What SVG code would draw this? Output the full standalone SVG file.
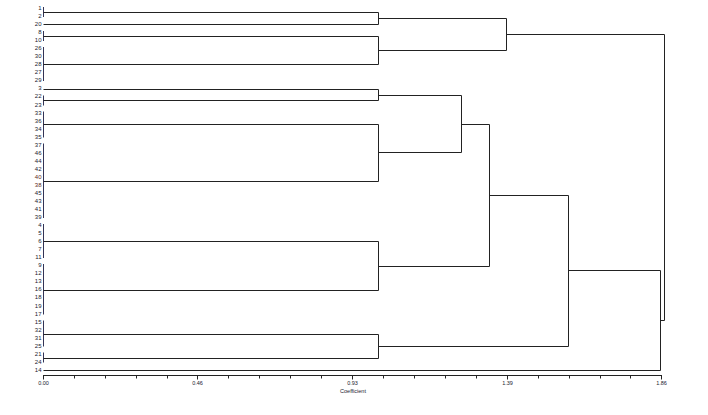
<svg xmlns="http://www.w3.org/2000/svg" width="708" height="415" viewBox="0 0 708 415">
<style>
.lbl{font-family:"Liberation Sans",Arial,sans-serif;font-size:6px;fill:#1a1a2e;text-anchor:end}
.ax{font-family:"Liberation Sans",Arial,sans-serif;font-size:5.5px;fill:#1a1a2e;text-anchor:middle}
.ln{stroke:#222;stroke-width:1;fill:none}
.lf{stroke:#335;stroke-width:1;fill:none}
</style>
<rect width="708" height="415" fill="#fff"/>
<g id="leaves">
<text class="lbl" x="41.5" y="10">1</text>
<text class="lbl" x="41.5" y="18">2</text>
<text class="lbl" x="41.5" y="26.1">20</text>
<text class="lbl" x="41.5" y="34.1">8</text>
<text class="lbl" x="41.5" y="42.2">10</text>
<text class="lbl" x="41.5" y="50.2">26</text>
<text class="lbl" x="41.5" y="58.2">30</text>
<text class="lbl" x="41.5" y="66.3">28</text>
<text class="lbl" x="41.5" y="74.3">27</text>
<text class="lbl" x="41.5" y="82.4">29</text>
<text class="lbl" x="41.5" y="90.4">3</text>
<text class="lbl" x="41.5" y="98.4">22</text>
<text class="lbl" x="41.5" y="106.5">23</text>
<text class="lbl" x="41.5" y="114.5">33</text>
<text class="lbl" x="41.5" y="122.6">36</text>
<text class="lbl" x="41.5" y="130.6">34</text>
<text class="lbl" x="41.5" y="138.6">35</text>
<text class="lbl" x="41.5" y="146.7">37</text>
<text class="lbl" x="41.5" y="154.7">46</text>
<text class="lbl" x="41.5" y="162.8">44</text>
<text class="lbl" x="41.5" y="170.8">42</text>
<text class="lbl" x="41.5" y="178.8" style="fill:#5a2a1a">40</text>
<text class="lbl" x="41.5" y="186.9" style="fill:#5a2a1a">38</text>
<text class="lbl" x="41.5" y="194.9">45</text>
<text class="lbl" x="41.5" y="203">43</text>
<text class="lbl" x="41.5" y="211">41</text>
<text class="lbl" x="41.5" y="219">39</text>
<text class="lbl" x="41.5" y="227.1">4</text>
<text class="lbl" x="41.5" y="235.1">5</text>
<text class="lbl" x="41.5" y="243.2">6</text>
<text class="lbl" x="41.5" y="251.2">7</text>
<text class="lbl" x="41.5" y="259.2">11</text>
<text class="lbl" x="41.5" y="267.3">9</text>
<text class="lbl" x="41.5" y="275.3">12</text>
<text class="lbl" x="41.5" y="283.4">13</text>
<text class="lbl" x="41.5" y="291.4">16</text>
<text class="lbl" x="41.5" y="299.4">18</text>
<text class="lbl" x="41.5" y="307.5">19</text>
<text class="lbl" x="41.5" y="315.5">17</text>
<text class="lbl" x="41.5" y="323.6">15</text>
<text class="lbl" x="41.5" y="331.6">32</text>
<text class="lbl" x="41.5" y="339.6">31</text>
<text class="lbl" x="41.5" y="347.7">25</text>
<text class="lbl" x="41.5" y="355.7">21</text>
<text class="lbl" x="41.5" y="363.8">24</text>
<text class="lbl" x="41.5" y="371.8">14</text>
</g>
<g id="connectors">
<!-- zero-height leaf clusters -->
<path class="lf" d="M43.5 7V17 M43.5 31V41 M43.5 47V81 M43.5 95.5V105.5 M43.5 111.5V137.5 M43.5 143.5V218 M43.5 224V258 M43.5 264V314.5 M43.5 320.5V346.5 M43.5 352.5V362.5"/>
<!-- links to 0.93 -->
<path class="ln" d="M43.5 12.5H378.5 M43.5 24.5H378.5 M378.5 12.5V24.5"/>
<path class="ln" d="M43.5 36.5H378.5 M43.5 64.5H378.5 M378.5 36.5V64.5"/>
<path class="ln" d="M378.5 18.5H506.5 M378.5 50.5H506.5 M506.5 18.5V50.5 M506.5 34.5H664.5"/>
<path class="ln" d="M43.5 89.5H378.5 M43.5 100.5H378.5 M378.5 89.5V100.5"/>
<path class="ln" d="M43.5 124.5H378.5 M43.5 181.5H378.5 M378.5 124.5V181.5"/>
<path class="ln" d="M378.5 95.5H461.5 M378.5 152.5H461.5 M461.5 95.5V152.5 M461.5 124.5H489.5"/>
<path class="ln" d="M43.5 241.5H378.5 M43.5 290.5H378.5 M378.5 241.5V290.5"/>
<path class="ln" d="M378.5 266.5H489.5 M489.5 124.5V266.5 M489.5 195.5H568.5"/>
<path class="ln" d="M43.5 334.5H378.5 M43.5 358.5H378.5 M378.5 334.5V358.5"/>
<path class="ln" d="M378.5 346.5H568.5 M568.5 195.5V346.5 M568.5 270.5H660.5"/>
<path class="ln" d="M43.5 370.5H660.5 M660.5 270.5V370.5 M660.5 320.5H664.5 M664.5 34.5V320.5"/>
</g>
<g id="axis">
<path class="ln" d="M43 375.5H661.5"/>
<path class="ln" d="M43.5 375V379.5 M74.5 375V378.5 M105.5 375V378.5 M136.5 375V378.5 M167.5 375V378.5 M197.5 375V379.5 M228.5 375V378.5 M259.5 375V378.5 M290.5 375V378.5 M321.5 375V378.5 M352.5 375V379.5 M383.5 375V378.5 M414.5 375V378.5 M445.5 375V378.5 M476.5 375V378.5 M507.5 375V379.5 M538.5 375V378.5 M569.5 375V378.5 M600.5 375V378.5 M630.5 375V378.5 M661.5 375V379.5"/>
<text class="ax" x="43.5" y="385">0.00</text>
<text class="ax" x="197.5" y="385">0.46</text>
<text class="ax" x="352.5" y="385">0.93</text>
<text class="ax" x="507.5" y="385">1.39</text>
<text class="ax" x="661.5" y="385">1.86</text>
<text class="ax" x="353" y="393">Coefficient</text>
</g>
</svg>
